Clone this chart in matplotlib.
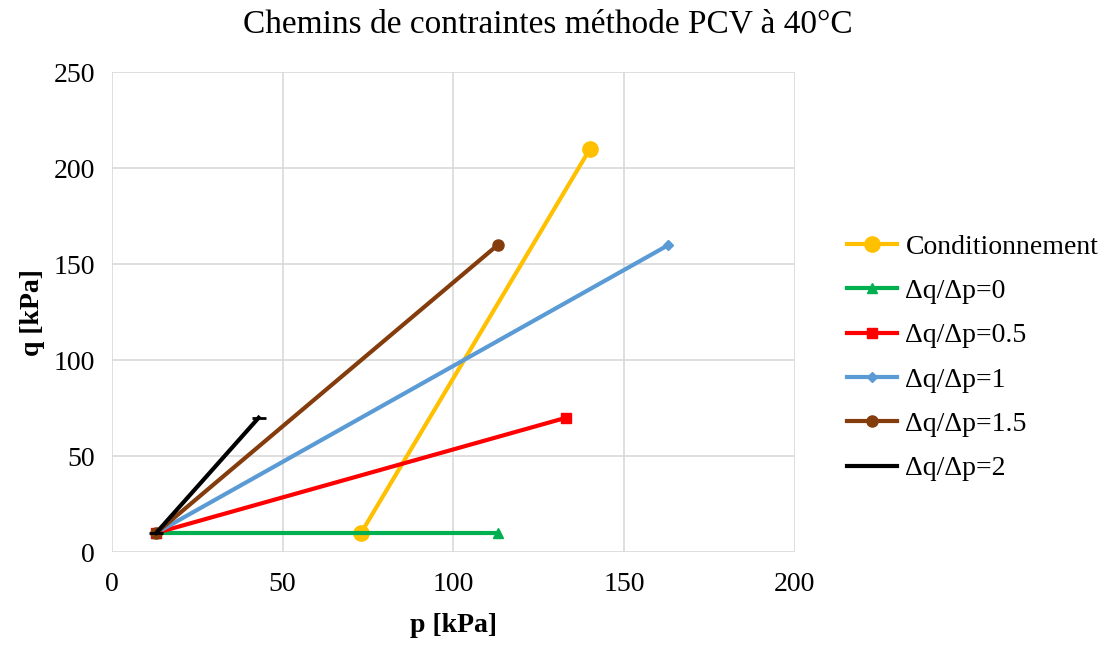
import matplotlib.pyplot as plt

plt.rcParams['font.family'] = ['Liberation Serif', 'DejaVu Serif']

labels = ['Conditionnement', 'Δq/Δp=0', 'Δq/Δp=0.5', 'Δq/Δp=1', 'Δq/Δp=1.5', 'Δq/Δp=2']
p_values = [[73, 140], [13, 113], [13, 133], [13, 163], [13, 113], [13, 43]]
q_values = [[10, 210], [10, 10], [10, 70], [10, 160], [10, 160], [10, 70]]
colors = ['#FFC000', '#00B050', '#FF0000', '#5B9BD5', '#843C0C', '#000000']
markers = ['o', '^', 's', 'D', 'o', '_']
msizes = [11, 7, 7, 5, 8, 10]

fig = plt.figure(figsize=(11.07, 6.45), dpi=100)
ax = fig.add_axes([0.101, 0.144, 0.617, 0.744])

for i in range(len(labels)):
    ax.plot(p_values[i], q_values[i], color=colors[i], marker=markers[i],
            markersize=msizes[i], linewidth=3, markeredgewidth=2 if markers[i] == '_' else 1,
            label=labels[i])

ax.set_xlim(0, 200)
ax.set_ylim(0, 250)
ax.set_xticks(range(0, 201, 50))
ax.set_yticks(range(0, 251, 50))
ax.grid(True, color='#D9D9D9', linewidth=1.2)
ax.set_axisbelow(True)
for s in ax.spines.values():
    s.set_visible(False)
ax.tick_params(axis='x', length=0, labelsize=20, pad=14)
ax.tick_params(axis='y', length=0, labelsize=20, pad=12)

ax.set_xlabel('p [kPa]', fontsize=20, fontweight='bold', labelpad=12)
ax.set_ylabel('q [kPa]', fontsize=20, fontweight='bold', labelpad=6)
fig.text(0.495, 0.963, 'Chemins de contraintes méthode PCV à 40°C', fontsize=24,
         ha='center', va='center')

ax.legend(loc='center left', bbox_to_anchor=(1.04, 0.405), frameon=False,
          fontsize=20, handlelength=1.8, labelspacing=0.68, handletextpad=0.3)

fig.savefig('out.png', dpi=100)
